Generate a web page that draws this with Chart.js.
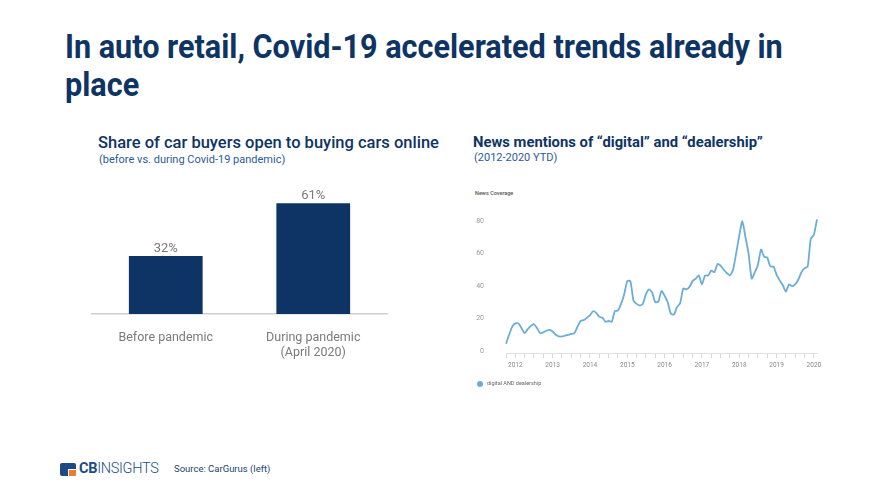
<!DOCTYPE html>
<html>
<head>
<meta charset="utf-8">
<script src="https://cdn.jsdelivr.net/npm/chart.js@4.4.1/dist/chart.umd.min.js"></script>
<style>
body { margin: 0; width: 880px; height: 487px; background: #fff; font-family: Roboto, sans-serif; position: relative; overflow: hidden; }
.abs { position: absolute; white-space: nowrap; }
#title { left: 65px; top: 28px; font-size: 34px; font-weight: 700; color: #0e3463; line-height: 37.5px; transform-origin: 0 0; transform: scaleX(0.9); }
.sub { font-size: 16.5px; font-weight: 500; color: #0e3463; }
.note { font-size: 11px; color: #2c5b95; }
#barBox { left: 86px; top: 187px; width: 307px; height: 177px; }
#lineBox { left: 470px; top: 198px; width: 360px; height: 185px; }
#newsCov { left: 475px; top: 190px; font-size: 5.5px; color: #555; font-weight: 500; }
#legend { left: 477px; top: 380px; font-size: 5.5px; color: #666; }
#legend span { display: inline-block; width: 6px; height: 6px; border-radius: 50%; background: #6aaed6; vertical-align: middle; margin-right: 4px; }
#logo { left: 60px; top: 462px; font-size: 14.5px; color: #1b4a86; }
#logoIcon { position: absolute; left: 0; top: 1px; width: 16px; height: 13px; background: #1b4a86; border-radius: 2px; overflow: hidden; }
#logoIcon i { position: absolute; right: 0; bottom: 0; width: 7px; height: 6px; background: #f07a2b; border-left: 1.5px solid #fff; border-top: 1.5px solid #fff; }
#logoText { position: absolute; left: 19px; top: -2px; letter-spacing: -0.3px; }
#source { left: 174px; top: 463px; font-size: 9.5px; color: #1f3f6e; }
</style>
</head>
<body>
<div id="title" class="abs">In auto retail, Covid-19 accelerated trends already in<br>place</div>

<div class="abs sub" style="left:98px;top:133px;">Share of car buyers open to buying cars online</div>
<div class="abs note" style="left:99px;top:153px;">(before vs. during Covid-19 pandemic)</div>

<div class="abs sub" style="left:473px;top:133px;font-size:14.8px;font-weight:700;">News mentions of “digital” and “dealership”</div>
<div class="abs note" style="left:474px;top:151px;">(2012-2020 YTD)</div>

<div id="barBox" class="abs"><canvas id="barChart"></canvas></div>
<div id="newsCov" class="abs">News Coverage</div>
<div id="lineBox" class="abs"><canvas id="lineChart"></canvas></div>
<div id="legend" class="abs"><span></span><b id="legendText" style="font-weight:400"></b></div>

<div id="logo" class="abs"><div id="logoIcon"><i></i></div><div id="logoText"><b>CB</b><span style="font-weight:300">INSIGHTS</span></div></div>
<div id="source" class="abs">Source: CarGurus (left)</div>

<script>
// left chart
var barCategories = ['Before pandemic', ['During pandemic', '(April 2020)']];
var barValues = [32, 61];

// right chart
var seriesName = 'digital AND dealership';
var yearTicks = ['2012', '2013', '2014', '2015', '2016', '2017', '2018', '2019', '2020'];
var yTicks = [0, 20, 40, 60, 80];
var newsValues = [4.5, 10, 15, 17, 17, 14, 11, 13.5, 15.5, 16.5,
    14, 11, 11.5, 12.5, 13, 12, 10, 9, 9, 9.5,
    10, 10.5, 11, 15, 18.5, 19, 20.5, 22, 24.5, 23.5,
    21, 20.5, 18, 18.5, 18, 24.5, 25, 29, 35, 43,
    43, 31, 29, 28, 29, 35, 38, 36, 30, 30.5,
    37, 34, 30, 23, 22.5, 27, 29.5, 38.5, 38, 39.5,
    43, 44.5, 46.5, 41, 46.5, 46.5, 49.5, 48.5, 53.5, 52.5,
    50, 48, 46.5, 50, 60, 71, 80, 70, 60, 44.5,
    48.5, 53, 62.5, 58, 57.5, 52, 52, 47, 43.5, 40.5,
    36.5, 41, 40, 41, 44, 48.5, 51, 52, 69, 71.5,
    81];

var monthLabels = [];
yearTicks.forEach(function (y) {
    for (var m = 1; m <= 12; m++) monthLabels.push(y + '-' + m);
});
monthLabels = monthLabels.slice(0, newsValues.length);

document.getElementById('legendText').textContent = seriesName;

var valueLabels = {
    id: 'valueLabels',
    afterDatasetsDraw: function (chart) {
        var ctx = chart.ctx;
        chart.getDatasetMeta(0).data.forEach(function (bar, i) {
            ctx.save();
            ctx.fillStyle = '#7a7a7a';
            ctx.font = '13px Roboto';
            ctx.textAlign = 'center';
            ctx.fillText(barValues[i] + '%', bar.x, bar.y - 4);
            ctx.restore();
        });
    }
};

new Chart('barChart', {
    type: 'bar',
    data: {
        labels: barCategories,
        datasets: [{
            data: barValues,
            backgroundColor: '#0d3464',
            barPercentage: 0.5,
            categoryPercentage: 1
        }]
    },
    options: {
        responsive: true,
        maintainAspectRatio: false,
        animation: false,
        layout: { padding: { left: 6, right: 6, top: 0, bottom: 0 } },
        plugins: { legend: { display: false }, tooltip: { enabled: false } },
        scales: {
            y: { display: false, min: 0, max: 70 },
            x: {
                grid: { display: false },
                border: { display: true, color: '#cfcfcf', width: 1.5 },
                ticks: { color: '#7a7a7a', font: { family: 'Roboto', size: 12.5 }, padding: 8 },
                afterFit: function (scale) { scale.height = 50; }
            }
        }
    },
    plugins: [valueLabels]
});

new Chart('lineChart', {
    type: 'line',
    data: {
        labels: monthLabels,
        datasets: [{
            label: seriesName,
            data: newsValues,
            borderColor: '#6aaed6',
            borderWidth: 1.8,
            pointRadius: 0,
            tension: 0.2,
            fill: false
        }]
    },
    options: {
        responsive: true,
        maintainAspectRatio: false,
        animation: false,
        layout: { padding: { top: 10, right: 13, left: 0, bottom: 0 } },
        plugins: { legend: { display: false }, tooltip: { enabled: false } },
        scales: {
            y: {
                min: -1.2,
                max: 88,
                grid: { drawOnChartArea: false, drawTicks: true, tickLength: 19, color: 'rgba(0,0,0,0)' },
                border: { display: false },
                ticks: {
                    padding: 3,
                    color: '#999',
                    font: { family: 'Roboto', size: 7 },
                    callback: function (v) { return String(v); }
                },
                afterBuildTicks: function (scale) {
                    scale.ticks = yTicks.map(function (v) { return { value: v }; });
                },
                afterFit: function (scale) { scale.width = 36; }
            },
            x: {
                grid: {
                    drawOnChartArea: false,
                    drawTicks: true,
                    tickLength: 5,
                    color: function (c) { return c.index % 3 === 0 ? '#d8d8d8' : 'rgba(0,0,0,0)'; }
                },
                border: { display: true, color: '#e0e0e0', width: 1 },
                ticks: {
                    autoSkip: false,
                    maxRotation: 0,
                    minRotation: 0,
                    padding: 3,
                    color: '#888',
                    font: { family: 'Roboto', size: 6.5 },
                    callback: function (v, i) { return i % 12 === 3 ? yearTicks[Math.floor(i / 12)] : ''; }
                },
                afterFit: function (scale) { scale.height = 30; }
            }
        }
    }
});
</script>
</body>
</html>
